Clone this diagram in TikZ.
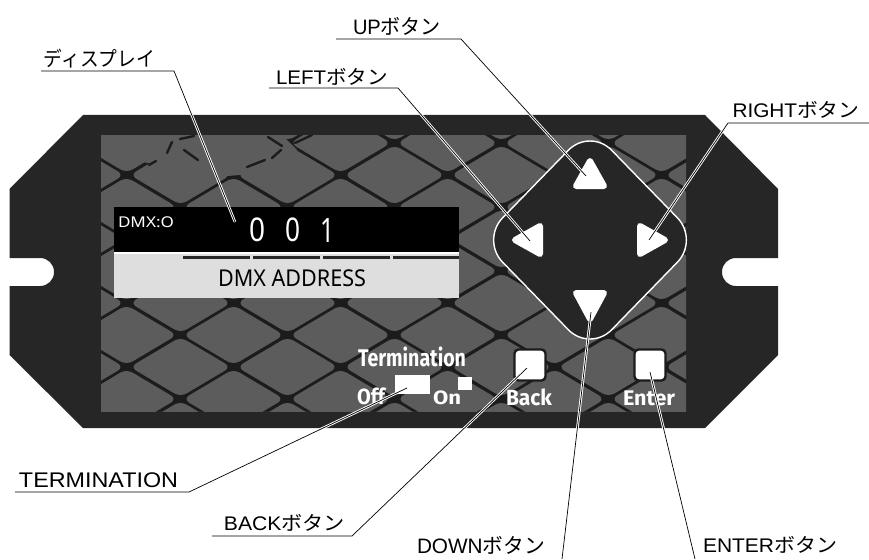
\documentclass[tikz,border=0pt]{standalone}
\usepackage{graphicx}
\usepackage{fontspec}
\setmainfont{Liberation Sans}
\newfontfamily\jpfont{Noto Sans CJK JP}
\newfontfamily\panelfont{Noto Sans}
\newfontfamily\panelboldfont{Fira Sans}
\newcommand{\btn}{{\jpfont ボタン}}
\newcommand{\fit}[3]{\resizebox*{#1pt}{#2pt}{#3}}
\definecolor{paneldark}{HTML}{262626}
\definecolor{latticedark}{HTML}{1C1C1C}
\definecolor{cellgray}{HTML}{5C5C5C}
\definecolor{screenlight}{HTML}{DEDEDE}
\tikzset{
  lead/.style={draw=black,line width=0.7pt,line join=round,preaction={draw=white,line width=2.6pt}},
  calltext/.style={inner sep=0pt,anchor=center,text=black},
  paneltext/.style={inner sep=0pt,anchor=center,text=white,font=\panelboldfont\bfseries},
  arrowmark/.style={fill=white,draw=white,line width=6pt,line join=round},
  keybtn/.style={fill=white,draw=latticedark,line width=2.4pt,rounded corners=4pt},
}
\begin{document}
\begin{tikzpicture}[x=1pt,y=-1pt]
\useasboundingbox (0,0) rectangle (869,559);
% body
\fill[paneldark] (83,115) -- (705,115) -- (778,189) -- (778,258) -- (736,258)
  .. controls (728,258) and (722,264) .. (722,272)
  .. controls (722,280) and (728,286) .. (736,286)
  -- (778,286) -- (778,355) -- (705,428) -- (83,428) -- (9.5,355) -- (9.5,286) -- (40,286)
  .. controls (48,286) and (54,280) .. (54,272)
  .. controls (54,264) and (48,258) .. (40,258)
  -- (9.5,258) -- (9.5,189) -- cycle;
% lattice
\begin{scope}
\clip (101,135) rectangle (686,411);
\fill[latticedark] (101,135) rectangle (686,411);
\foreach \k in {-1,1,3,5,7,9,11}{
  \foreach \i in {-1,...,6}{
    \pgfmathsetmacro{\cx}{180+53.5+107*\i}
    \pgfmathsetmacro{\cy}{143+32*(\k-1)}
    \fill[cellgray,rounded corners=7pt] (\cx-50.5,\cy) -- (\cx,\cy-30) -- (\cx+50.5,\cy) -- (\cx,\cy+30) -- cycle;
    \pgfmathsetmacro{\dx}{127+53.5+107*\i}
    \pgfmathsetmacro{\dy}{175+32*(\k-1)}
    \fill[cellgray,rounded corners=7pt] (\dx-50.5,\dy) -- (\dx,\dy-30) -- (\dx+50.5,\dy) -- (\dx,\dy+30) -- cycle;
  }
}
\fill[cellgray] (143,162) -- (160,135) -- (282,135) -- (297,150) -- (272,172) -- (228,176) -- (192,172) -- cycle;
\foreach \a/\b/\c/\d in {167/153/172/142, 180/139/194/136, 184/150/198/160, 149/165/156/161, 247/167/265/160, 272/158/281/150, 268/137/282/146, 295/143/312/135}
  \draw[latticedark,line width=2.4pt,line cap=round] (\a,\b) -- (\c,\d);
\end{scope}
% display
\fill[black] (114,207) rectangle (459,252);
\fill[white] (114,252) rectangle (459,254);
\fill[screenlight] (114,254) rectangle (459,298);
\foreach \a/\b in {183/250,253/320,323/390,393/459}
  \fill[black!85] (\a,256) rectangle (\b,258.5);
\node[paneltext,font=\panelfont] (dmxflag) at (146,222.5) {\fit{56}{11}{DMX:O}};
\node[paneltext,font=\panelfont] (digita) at (257,230) {\fit{16}{24}{0}};
\node[paneltext,font=\panelfont] (digitb) at (292.5,230) {\fit{15}{24}{0}};
\node[paneltext,font=\panelfont] (digitc) at (327.5,230) {\fit{14}{24}{1}};
\node[calltext,font=\panelfont] (dmxaddr) at (292,278.5) {\fit{148}{17}{DMX ADDRESS}};
% key diamond
\draw[fill=paneldark,draw=white,line width=1.4pt,rounded corners=31pt]
  (590,128) -- (699,240) -- (590,352) -- (481,240) -- cycle;
\fill[arrowmark] (590,161) -- (604,186) -- (576,186) -- cycle;
\fill[arrowmark] (515,240) -- (540,226) -- (540,254) -- cycle;
\fill[arrowmark] (665,240) -- (640,226) -- (640,254) -- cycle;
\fill[arrowmark] (590,319) -- (604,293) -- (576,293) -- cycle;
% small keys
\node[keybtn,minimum width=31pt,minimum height=31pt,inner sep=0pt] (backkey) at (530,365) {};
\node[keybtn,minimum width=31pt,minimum height=31pt,inner sep=0pt] (enterkey) at (650,365) {};
\fill[white] (395,375) rectangle (430,394);
\fill[white] (458,377) rectangle (472,390);
\node[paneltext] (termtxt) at (412,357) {\fit{108}{20}{Termination}};
\node[paneltext] (offtxt) at (371,396.5) {\fit{28}{17}{Off}};
\node[paneltext] (ontxt) at (447,398) {\fit{28}{14}{On}};
\node[paneltext] (backtxt) at (529,397.5) {\fit{46}{17}{Back}};
\node[paneltext] (entertxt) at (649,398.5) {\fit{52}{15}{Enter}};
% callouts
\coordinate (dispA) at (41,71); \coordinate (dispB) at (174,71); \coordinate (dispC) at (235,222);
\coordinate (upA) at (336,39); \coordinate (upB) at (461,39); \coordinate (upC) at (586,176);
\coordinate (leftA) at (269,88); \coordinate (leftB) at (398,88); \coordinate (leftC) at (530,241);
\coordinate (rightA) at (869,123); \coordinate (rightB) at (728,123); \coordinate (rightC) at (649,240);
\coordinate (termA) at (15,492); \coordinate (termB) at (189,492); \coordinate (termC) at (407,388);
\coordinate (backA) at (212,536); \coordinate (backB) at (352,536); \coordinate (backC) at (527,368);
\coordinate (downA) at (562,559); \coordinate (downC) at (591,312);
\coordinate (enterA) at (695,559); \coordinate (enterC) at (650,372);
\draw[lead] (dispA) -- (dispB) -- (dispC);
\draw[lead] (upA) -- (upB) -- (upC);
\draw[lead] (leftA) -- (leftB) -- (leftC);
\draw[lead] (rightA) -- (rightB) -- (rightC);
\draw[lead] (termA) -- (termB) -- (termC);
\draw[lead] (backA) -- (backB) -- (backC);
\draw[lead] (downA) -- (downC);
\draw[lead] (enterA) -- (enterC);
\node[calltext] (displabel) at (99.5,59) {\fit{111}{19}{\jpfont ディスプレイ}};
\node[calltext] (uplabel) at (397,26) {\fit{88}{18}{UP\btn}};
\node[calltext] (leftlabel) at (332,76.5) {\fit{112}{17}{LEFT\btn}};
\node[calltext] (rightlabel) at (796,110) {\fit{127}{17}{RIGHT\btn}};
\node[calltext] (termlabel) at (98.5,480.5) {\fit{159}{15}{TERMINATION}};
\node[calltext] (backlabel) at (284.5,523) {\fit{121}{17}{BACK\btn}};
\node[calltext] (downlabel) at (481,545) {\fit{128}{18}{DOWN\btn}};
\node[calltext] (enterlabel) at (770,545) {\fit{134}{17}{ENTER\btn}};
\end{tikzpicture}
\end{document}
